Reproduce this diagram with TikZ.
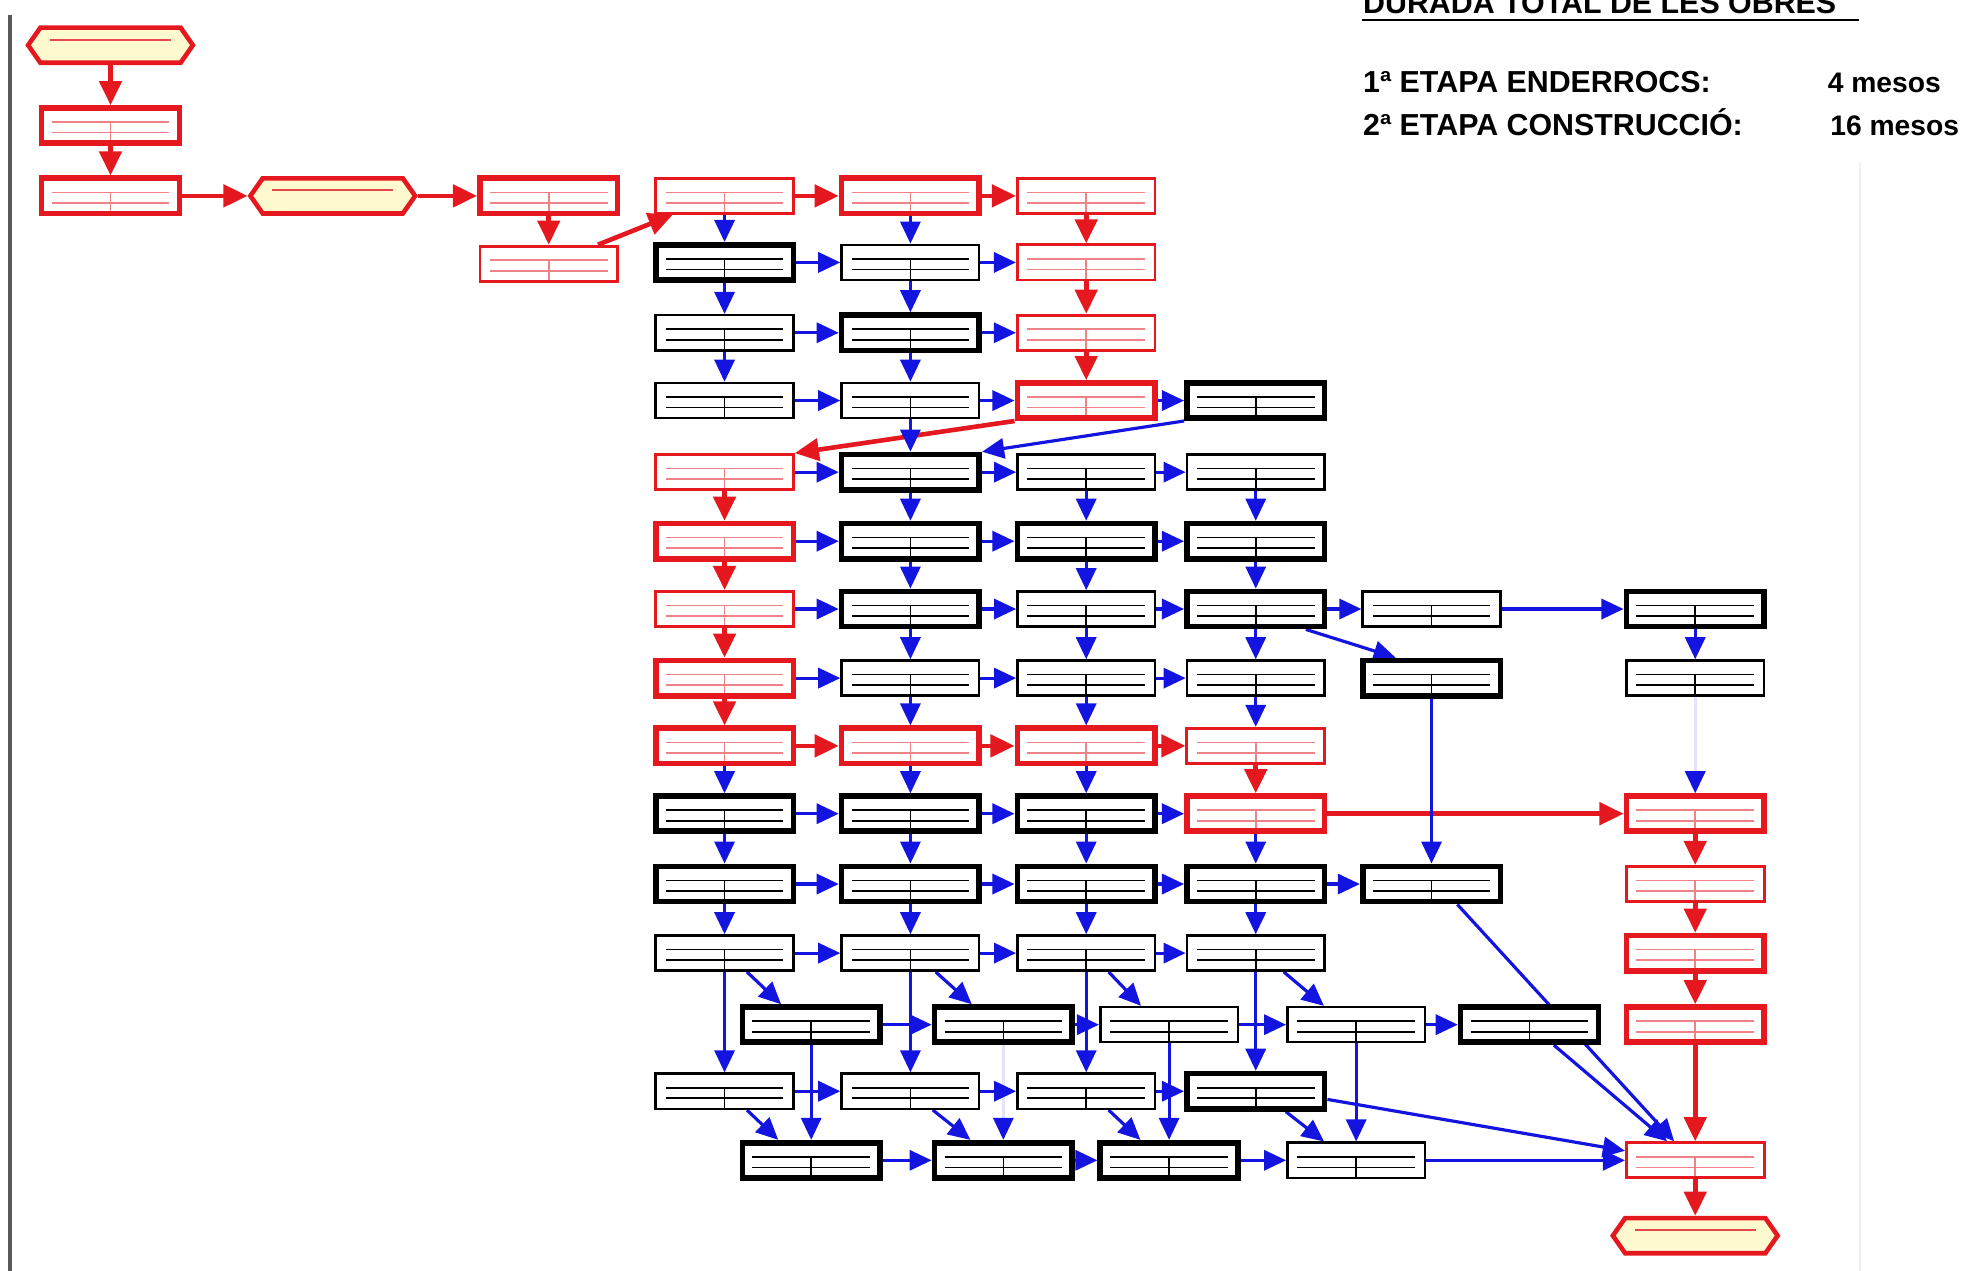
\documentclass[tikz,border=0pt]{standalone}
\usepackage{fontspec}
\setmainfont{Liberation Sans}
\usetikzlibrary{shapes.symbols, arrows.meta, calc, backgrounds}

\definecolor{vermell}{RGB}{228,24,30}
\definecolor{blau}{RGB}{20,20,225}
\definecolor{rosa}{RGB}{238,130,135}
\definecolor{groc}{RGB}{255,249,208}

% lines inside a task box (title / two data rows)
\newcommand\separadors[1]{%
  \draw[#1, line width=0.45pt]
    ([shift={(0.1cm,-0.14cm)}]path picture bounding box.north west) -- ([shift={(-0.1cm,-0.14cm)}]path picture bounding box.north east)
    ([shift={(0.1cm,-0.245cm)}]path picture bounding box.north west) -- ([shift={(-0.1cm,-0.245cm)}]path picture bounding box.north east)
    ([shift={(0.685cm,-0.14cm)}]path picture bounding box.north west) -- ([shift={(0.685cm,0cm)}]path picture bounding box.south west);}

\tikzset{
  caixa/.style={rectangle, fill=white, minimum width=1.37cm, minimum height=0.35cm, inner sep=0pt},
  tasca/.style={caixa, draw=black, line width=0.7pt, path picture={\separadors{black}}},
  tascag/.style={tasca, line width=1.6pt},
  tascacrit/.style={caixa, draw=vermell, line width=0.8pt, path picture={\separadors{rosa}}},
  tascacritg/.style={tascacrit, line width=1.6pt},
  fita/.style={signal, signal to=west and east, signal pointer angle=110, draw=vermell,
               line width=1.3pt, fill=groc, minimum width=1.64cm, minimum height=0.35cm, inner sep=0pt,
               path picture={\draw[vermell!80, line width=0.5pt]
                 ([shift={(0.22cm,-0.12cm)}]path picture bounding box.north west) -- ([shift={(-0.22cm,-0.12cm)}]path picture bounding box.north east);}},
  fletxa/.style={-{Triangle[length=2.2mm,width=2mm]}, line width=0.9pt, draw=blau},
  fletxacrit/.style={-{Triangle[length=2.4mm,width=2.2mm]}, line width=1.3pt, draw=vermell},
  fletxafeble/.style={fletxa, draw=blau!12, -{Triangle[length=2.2mm,width=2mm,color=blau]}},
  resum/.style={font=\fontsize{8.6}{10}\selectfont\bfseries, inner sep=0pt, anchor=base west},
}

\begin{document}
\begin{tikzpicture}[x=0.0125cm, y=-0.0125cm]
  \useasboundingbox (0,0) rectangle (1568,1012);
  \clip (0,0) rectangle (1568,1012);

  % marges
  \draw[gray!70!black, line width=1pt] (8,12) -- (8,1012);
  \draw[gray!12, line width=0.6pt] (1481,130) -- (1481,1012);

  % durada
  \node[resum] (durada) at (1085,11) {DURADA TOTAL DE LES OBRES};
  \draw[line width=0.8pt] (1085,16) -- (1480,16);
  \node[resum] (etapa1) at (1085,74) {1ª ETAPA ENDERROCS:};
  \node[resum, font=\fontsize{8}{10}\selectfont\bfseries] (mesos1) at (1455,74) {4 mesos};
  \node[resum] (etapa2) at (1085,108) {2ª ETAPA CONSTRUCCIÓ:};
  \node[resum, font=\fontsize{8}{10}\selectfont\bfseries] (mesos2) at (1457,108) {16 mesos};

  % Enderrocs
  \node[fita] (inici) at (88,36) {};
  \node[tascacritg] (t1) at (88,100) {};
  \node[tascacritg] (t2) at (88,156) {};
  \node[fita] (fitaend) at (265,156) {};
  \node[tascacritg] (t3) at (437,156) {};
  \node[tascacrit] (t4) at (437,210) {};

  % Construccio
  \node[tascacrit] (a1) at (577,156) {};
  \node[tascacritg] (b1) at (725,156) {};
  \node[tascacrit] (c1) at (865,156) {};

  \node[tascag] (a2) at (577,209) {};
  \node[tasca] (b2) at (725,209) {};
  \node[tascacrit] (c2) at (865,209) {};

  \node[tasca] (a3) at (577,265) {};
  \node[tascag] (b3) at (725,265) {};
  \node[tascacrit] (c3) at (865,265) {};

  \node[tasca] (a4) at (577,319) {};
  \node[tasca] (b4) at (725,319) {};
  \node[tascacritg] (c4) at (865,319) {};
  \node[tascag] (d4) at (1000,319) {};

  \node[tascacrit] (a5) at (577,376) {};
  \node[tascag] (b5) at (725,376) {};
  \node[tasca] (c5) at (865,376) {};
  \node[tasca] (d5) at (1000,376) {};

  \node[tascacritg] (a6) at (577,431) {};
  \node[tascag] (b6) at (725,431) {};
  \node[tascag] (c6) at (865,431) {};
  \node[tascag] (d6) at (1000,431) {};

  \node[tascacrit] (a7) at (577,485) {};
  \node[tascag] (b7) at (725,485) {};
  \node[tasca] (c7) at (865,485) {};
  \node[tascag] (d7) at (1000,485) {};
  \node[tasca] (e7) at (1140,485) {};
  \node[tascag] (f7) at (1350,485) {};

  \node[tascacritg] (a8) at (577,540) {};
  \node[tasca] (b8) at (725,540) {};
  \node[tasca] (c8) at (865,540) {};
  \node[tasca] (d8) at (1000,540) {};
  \node[tascag] (e8) at (1140,540) {};
  \node[tasca] (f8) at (1350,540) {};

  \node[tascacritg] (a9) at (577,594) {};
  \node[tascacritg] (b9) at (725,594) {};
  \node[tascacritg] (c9) at (865,594) {};
  \node[tascacrit] (d9) at (1000,594) {};

  \node[tascag] (a10) at (577,648) {};
  \node[tascag] (b10) at (725,648) {};
  \node[tascag] (c10) at (865,648) {};
  \node[tascacritg] (d10) at (1000,648) {};
  \node[tascacritg] (f10) at (1350,648) {};

  \node[tascag] (a11) at (577,704) {};
  \node[tascag] (b11) at (725,704) {};
  \node[tascag] (c11) at (865,704) {};
  \node[tascag] (d11) at (1000,704) {};
  \node[tascag] (e11) at (1140,704) {};
  \node[tascacrit] (f11) at (1350,704) {};

  \node[tasca] (a12) at (577,759) {};
  \node[tasca] (b12) at (725,759) {};
  \node[tasca] (c12) at (865,759) {};
  \node[tasca] (d12) at (1000,759) {};
  \node[tascacritg] (f12) at (1350,759) {};

  \node[tascag] (g1) at (646,816) {};
  \node[tascag] (g2) at (799,816) {};
  \node[tasca] (g3) at (931,816) {};
  \node[tasca] (g4) at (1080,816) {};
  \node[tascag] (g5) at (1218,816) {};
  \node[tascacritg] (f13) at (1350,816) {};

  \node[tasca] (a14) at (577,869) {};
  \node[tasca] (b14) at (725,869) {};
  \node[tasca] (c14) at (865,869) {};
  \node[tascag] (d14) at (1000,869) {};

  \node[tascag] (h1) at (646,924) {};
  \node[tascag] (h2) at (799,924) {};
  \node[tascag] (h3) at (931,924) {};
  \node[tasca] (h4) at (1080,924) {};
  \node[tascacrit] (f15) at (1350,924) {};

  \node[fita] (final) at (1350,984) {};

  \begin{scope}[on background layer]
  % Cami critic
  \draw[fletxacrit] (inici) -- (t1);
  \draw[fletxacrit] (t1) -- (t2);
  \draw[fletxacrit] (t2) -- (fitaend);
  \draw[fletxacrit] (fitaend) -- (t3);
  \draw[fletxacrit] (t3) -- (t4);
  \draw[fletxacrit] ($(t4.north west)!0.85!(t4.north east)$) -- ($(a1.south west)!0.13!(a1.south east)$);
  \draw[fletxacrit] (a1) -- (b1);
  \draw[fletxacrit] (b1) -- (c1);
  \draw[fletxacrit] (c1) -- (c2);
  \draw[fletxacrit] (c2) -- (c3);
  \draw[fletxacrit] (c3) -- (c4);
  \draw[fletxacrit] (c4.south west) -- (a5.north east);
  \draw[fletxacrit] (a5) -- (a6);
  \draw[fletxacrit] (a6) -- (a7);
  \draw[fletxacrit] (a7) -- (a8);
  \draw[fletxacrit] (a8) -- (a9);
  \draw[fletxacrit] (a9) -- (b9);
  \draw[fletxacrit] (b9) -- (c9);
  \draw[fletxacrit] (c9) -- (d9);
  \draw[fletxacrit] (d9) -- (d10);
  \draw[fletxacrit] (d10) -- (f10);
  \draw[fletxacrit] (f10) -- (f11);
  \draw[fletxacrit] (f11) -- (f12);
  \draw[fletxacrit] (f12) -- (f13);
  \draw[fletxacrit] (f13) -- (f15);
  \draw[fletxacrit] (f15) -- (final);

  % Connexions
  \draw[fletxa] (a1) -- (a2);
  \draw[fletxa] (b1) -- (b2);
  \draw[fletxa] (a2) -- (b2);
  \draw[fletxa] (b2) -- (c2);
  \draw[fletxa] (a2) -- (a3);
  \draw[fletxa] (b2) -- (b3);
  \draw[fletxa] (a3) -- (b3);
  \draw[fletxa] (b3) -- (c3);
  \draw[fletxa] (a3) -- (a4);
  \draw[fletxa] (b3) -- (b4);
  \draw[fletxa] (a4) -- (b4);
  \draw[fletxa] (b4) -- (c4);
  \draw[fletxa] (c4) -- (d4);
  \draw[fletxa] (b4) -- (b5);
  \draw[fletxa] (d4.south west) -- (b5.north east);

  \draw[fletxa] (a5) -- (b5);
  \draw[fletxa] (b5) -- (c5);
  \draw[fletxa] (c5) -- (d5);
  \draw[fletxa] (b5) -- (b6);
  \draw[fletxa] (c5) -- (c6);
  \draw[fletxa] (d5) -- (d6);

  \draw[fletxa] (a6) -- (b6);
  \draw[fletxa] (b6) -- (c6);
  \draw[fletxa] (c6) -- (d6);
  \draw[fletxa] (b6) -- (b7);
  \draw[fletxa] (c6) -- (c7);
  \draw[fletxa] (d6) -- (d7);

  \draw[fletxa] (a7) -- (b7);
  \draw[fletxa] (b7) -- (c7);
  \draw[fletxa] (c7) -- (d7);
  \draw[fletxa] (d7) -- (e7);
  \draw[fletxa] (e7) -- (f7);
  \draw[fletxa] (b7) -- (b8);
  \draw[fletxa] (c7) -- (c8);
  \draw[fletxa] (d7) -- (d8);
  \draw[fletxa] ($(d7.south west)!0.85!(d7.south east)$) -- ($(e8.north west)!0.25!(e8.north east)$);
  \draw[fletxa] (f7) -- (f8);

  \draw[fletxa] (a8) -- (b8);
  \draw[fletxa] (b8) -- (c8);
  \draw[fletxa] (c8) -- (d8);
  \draw[fletxa] (b8) -- (b9);
  \draw[fletxa] (c8) -- (c9);
  \draw[fletxa] (d8) -- (d9);
  \draw[fletxa] (e8) -- (e11);
  \draw[fletxafeble] (f8) -- (f10);

  \draw[fletxa] (a9) -- (a10);
  \draw[fletxa] (b9) -- (b10);
  \draw[fletxa] (c9) -- (c10);

  \draw[fletxa] (a10) -- (b10);
  \draw[fletxa] (b10) -- (c10);
  \draw[fletxa] (c10) -- (d10);
  \draw[fletxa] (a10) -- (a11);
  \draw[fletxa] (b10) -- (b11);
  \draw[fletxa] (c10) -- (c11);
  \draw[fletxa] (d10) -- (d11);

  \draw[fletxa] (a11) -- (b11);
  \draw[fletxa] (b11) -- (c11);
  \draw[fletxa] (c11) -- (d11);
  \draw[fletxa] (d11) -- (e11);
  \draw[fletxa] (a11) -- (a12);
  \draw[fletxa] (b11) -- (b12);
  \draw[fletxa] (c11) -- (c12);
  \draw[fletxa] (d11) -- (d12);
  \draw[fletxa] ($(e11.south west)!0.68!(e11.south east)$) -- ($(f15.north west)!0.35!(f15.north east)$);

  \draw[fletxa] (a12) -- (b12);
  \draw[fletxa] (b12) -- (c12);
  \draw[fletxa] (c12) -- (d12);
  \draw[fletxa] ($(a12.south west)!0.66!(a12.south east)$) -- ($(g1.north west)!0.29!(g1.north east)$);
  \draw[fletxa] ($(b12.south west)!0.68!(b12.south east)$) -- ($(g2.north west)!0.28!(g2.north east)$);
  \draw[fletxa] ($(c12.south west)!0.66!(c12.south east)$) -- ($(g3.north west)!0.3!(g3.north east)$);
  \draw[fletxa] ($(d12.south west)!0.7!(d12.south east)$) -- ($(g4.north west)!0.27!(g4.north east)$);
  \draw[fletxa] (a12) -- (a14);
  \draw[fletxa] (b12) -- (b14);
  \draw[fletxa] (c12) -- (c14);
  \draw[fletxa] (d12) -- (d14);

  \draw[fletxa] (g1) -- (g2);
  \draw[fletxa] (g2) -- (g3);
  \draw[fletxa] (g3) -- (g4);
  \draw[fletxa] (g4) -- (g5);
  \draw[fletxa] (g1) -- (h1);
  \draw[fletxafeble] (g2) -- (h2);
  \draw[fletxa] (g3) -- (h3);
  \draw[fletxa] (g4) -- (h4);
  \draw[fletxa] ($(g5.south west)!0.67!(g5.south east)$) -- ($(f15.north west)!0.3!(f15.north east)$);

  \draw[fletxa] (a14) -- (b14);
  \draw[fletxa] (b14) -- (c14);
  \draw[fletxa] (c14) -- (d14);
  \draw[fletxa] ($(a14.south west)!0.66!(a14.south east)$) -- ($(h1.north west)!0.27!(h1.north east)$);
  \draw[fletxa] ($(b14.south west)!0.66!(b14.south east)$) -- ($(h2.north west)!0.27!(h2.north east)$);
  \draw[fletxa] ($(c14.south west)!0.66!(c14.south east)$) -- ($(h3.north west)!0.3!(h3.north east)$);
  \draw[fletxa] ($(d14.south west)!0.71!(d14.south east)$) -- ($(h4.north west)!0.27!(h4.north east)$);
  \draw[fletxa] ($(d14.south east)!0.3!(d14.north east)$) -- ($(f15.west)!0.5!(f15.north west)$);

  \draw[fletxa] (h1) -- (h2);
  \draw[fletxa] (h2) -- (h3);
  \draw[fletxa] (h3) -- (h4);
  \draw[fletxa] (h4) -- (f15);
  \end{scope}
\end{tikzpicture}
\end{document}
